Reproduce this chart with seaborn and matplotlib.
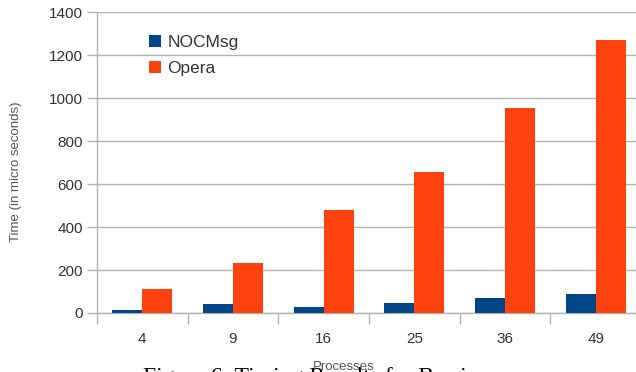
import numpy as np
import pandas as pd
import matplotlib
matplotlib.use('Agg')
import matplotlib.pyplot as plt
import seaborn as sns
from matplotlib.ticker import FixedLocator

processes = ['4', '9', '16', '25', '36', '49']
nocmsg = [14, 40, 28, 48, 70, 88]
opera = [112, 232, 478, 658, 955, 1270]
series = ['NOCMsg', 'Opera']
colors = ['#004586', '#ff420e']

df = pd.DataFrame({'Processes': processes * 2,
                   'Time': nocmsg + opera,
                   'Series': [series[0]] * len(processes) + [series[1]] * len(processes)})

sns.set_style('white')
plt.rcParams['font.family'] = ['Liberation Sans', 'DejaVu Sans']

fig = plt.figure(figsize=(6.36, 3.72), dpi=100)
ax = fig.add_axes([97/636, 1 - 313/372, 544/636, 301/372])

sns.barplot(data=df, x='Processes', y='Time', hue='Series', hue_order=series,
            palette=colors, width=0.66, saturation=1, linewidth=0, ax=ax, zorder=3)

ax.set_xlim(-0.5, 5.5)
ax.set_ylim(0, 1400)
ax.set_yticks(np.arange(0, 1401, 200))
ax.yaxis.grid(True, color='#b3b3b3', lw=1, zorder=0)
ax.set_axisbelow(True)

for s in ['top', 'right']:
    ax.spines[s].set_visible(False)
for s in ['left', 'bottom']:
    ax.spines[s].set_color('#b3b3b3')
    ax.spines[s].set_linewidth(1)

ax.xaxis.set_minor_locator(FixedLocator(np.arange(-0.5, 6, 1)))
ax.tick_params(axis='x', which='major', length=0, pad=14, labelsize=11, labelcolor='#333333')
ax.tick_params(axis='x', which='minor', length=8, width=1, color='#b3b3b3', direction='out', bottom=True)
ax.tick_params(axis='y', length=7, width=1, color='#b3b3b3', direction='out', left=True,
               pad=3, labelsize=11, labelcolor='#333333')

ax.set_ylabel('Time (in micro seconds)', fontsize=9.5, color='#555555')
ax.yaxis.set_label_coords(-0.137, 0.47)
ax.set_xlabel('Processes', fontsize=9.5, color='#555555')
ax.xaxis.set_label_coords(0.454, -0.16)

ax.legend(loc='upper left', bbox_to_anchor=(149/636, 1 - 35/372), bbox_transform=fig.transFigure,
          frameon=False, fontsize=12.5, handlelength=0.7, handleheight=0.7,
          handletextpad=0.35, labelspacing=0.62, borderpad=0, borderaxespad=0,
          labelcolor='#333333')

# caption of the paper figure, mostly cut off at the bottom edge
fig.text(143/636, 1 - 367/372, 'Figure 6: Timing Results for Barrier', family=['Liberation Serif', 'DejaVu Serif'],
         fontsize=17, ha='left', va='top', color='black', zorder=-1)

fig.savefig('out.png', dpi=100)
